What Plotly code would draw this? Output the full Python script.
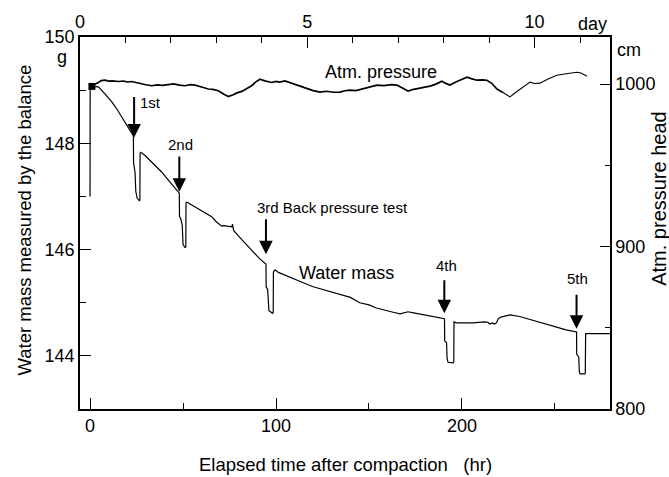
import plotly.graph_objects as go

# ---------------- data ----------------
# Water mass measured by the balance (g) vs elapsed time (hr)
water_hr = [0.0, 0.05, 1.0, 4.5, 8, 11.7, 14.5, 17, 20, 22.4, 23.3,
            23.4, 23.8, 24.2, 24.6, 25.3, 26.5, 26.8, 26.9, 27.3, 29.6, 34, 38.5, 43, 47.5, 48.0,
            48.1, 48.8, 49.6, 50.0, 51.0, 51.5, 51.6, 52.2, 54.7, 60, 65.4, 68, 70.8, 72, 76.2,
            76.6, 77.2, 80, 84, 88, 91.4, 94.6,
            94.7, 95.5, 95.9, 96.2, 98.2, 98.5, 98.6, 99.5, 101.3, 105, 109.3, 115, 120, 125,
            130.8, 136, 140, 145, 150, 154, 158, 163, 166.7, 169, 171, 174, 177.4, 183, 189.8, 190.6,
            190.7, 191.7, 192.0, 192.5, 195.3, 195.6, 195.7, 197, 206, 212, 214, 215, 216.5,
            217.5, 218.5, 219.5, 221, 225.8, 231, 236, 240, 246, 251, 256, 261.6,
            261.7, 262.8, 263.1, 263.6, 266.1, 266.3, 266.5, 268, 279.6]
water_g = [147.0, 149.05, 149.07, 149.06, 148.93, 148.78, 148.64, 148.5, 148.32, 148.18, 148.14,
           147.64, 147.56, 147.45, 147.1, 146.97, 146.92, 146.93, 147.81, 147.83, 147.77, 147.62, 147.46, 147.27, 147.09, 147.06,
           146.62, 146.58, 146.45, 146.1, 146.04, 146.05, 146.88, 146.89, 146.84, 146.73, 146.62, 146.52, 146.44, 146.45, 146.43,
           146.48, 146.36, 146.25, 146.1, 145.95, 145.82, 145.73,
           145.30, 145.25, 145.1, 144.85, 144.8, 144.82, 145.58, 145.62, 145.57, 145.52, 145.46, 145.37, 145.3, 145.25,
           145.2, 145.14, 145.1, 145.0, 144.96, 144.9, 144.86, 144.82, 144.79, 144.81, 144.83, 144.81, 144.79, 144.75, 144.71, 144.7,
           144.28, 144.25, 143.95, 143.88, 143.87, 143.89, 144.64, 144.62, 144.62, 144.64, 144.63, 144.60, 144.62,
           144.60, 144.62, 144.70, 144.73, 144.77, 144.74, 144.69, 144.64, 144.59, 144.53, 144.49, 144.45,
           144.03, 143.98, 143.7, 143.66, 143.66, 143.68, 144.42, 144.42, 144.42]

# Atmospheric pressure head (cm) vs elapsed time (hr)
press_hr = [1.2, 2.5, 4.5, 6.0, 8.1, 10, 12, 15.2, 18, 20, 22.4, 25, 27.8, 30, 33.2, 36, 39, 42.1,
            45, 48, 51.1, 54, 56.5, 60, 63.6, 66, 69.0, 72, 74.4, 77, 79, 81.6, 84, 86.9, 89, 91.4,
            94, 97.7, 100, 102, 104.8, 108, 111, 113, 116, 120, 123.7, 127, 131, 134.4, 137, 139.8,
            143, 146.8, 150, 154.3, 158, 162, 165, 168, 171, 174, 177.4, 180, 182.8, 186, 189.2,
            191, 193.5, 197, 200, 202.7, 205, 208, 211, 213.4, 216, 218.8, 222,
            225.8, 229, 233, 236.6, 239, 242, 246, 251, 256, 261.8, 264, 267.2]
press_cm = [998.0, 1000.0, 1001.0, 1002.2, 1002.4, 1001.8, 1002.0, 1001.6, 1001.9, 1001.3, 1001.6,
            1000.8, 1000.0, 999.6, 999.0, 999.5, 999.2, 999.6, 1000.1, 999.4, 999.0, 999.7, 999.4,
            998.2, 997.0, 996.8, 995.9, 993.8, 992.3, 993.5, 994.6, 995.5, 997.2, 999.0, 1001.2,
            1003.0, 1002.0, 1001.0, 1001.7, 1001.2, 1002.0, 1000.8, 999.7, 998.8, 997.6, 996.0,
            995.1, 995.6, 995.0, 995.1, 995.9, 996.3, 996.0, 997.0, 998.2, 999.4, 999.1, 999.7,
            999.4, 997.8, 995.7, 996.8, 997.6, 998.0, 998.8, 1000.0, 1001.8, 1000.6, 999.4, 1001.5,
            1003.2, 1004.3, 1003.4, 1002.4, 1002.6, 1002.4, 1000.5, 997.0, 994.8,
            992.1, 995.0, 998.5, 1001.2, 1000.4, 1000.6, 1003.0, 1005.5, 1006.4, 1007.3, 1006.8, 1004.9]
press_thick_until = 222  # the early record is drawn as a heavier (noisy) trace

# start-of-record marker
start_hr = [1.0]
start_g = [149.07]

# back pressure tests: arrow position (hr), arrow tip / tail (g), label and label position
test_hr = [23.7, 48.0, 94.6, 190.5, 261.6]
test_tip = [148.11, 147.09, 145.91, 144.80, 144.51]
test_tail = [148.90, 147.78, 146.60, 145.45, 145.18]
test_labels = ["1st", "2nd", "3rd Back pressure test", "4th", "5th"]
test_label_hr = [25.8, 48.4, 88.7, 191.8, 262.0]
test_label_g = [148.76, 147.98, 146.80, 145.70, 145.46]
test_label_anchor = ["left", "center", "left", "center", "center"]

# axes
x_range = [-5.4, 279.6]
x_ticks = [0, 100, 200]
x_minor = [50, 150, 250]
day_range = [0, 11.66]
day_ticks = [0, 5, 10]
day_minor = [1, 2, 3, 4, 6, 7, 8, 9, 11]
g_range = [143, 150]
g_ticks = [144, 146, 148, 150]
g_minor = [145, 147, 149]
cm_range = [800, 1029]
cm_ticks = [800, 900, 1000]
cm_minor = [850, 950]

# ---------------- figure ----------------
FONT = "Liberation Sans, Arial, Helvetica, sans-serif"
W, H = 669, 477
L, R, T, B = 80, 59, 32, 68
PW, PH = W - L - R, H - T - B


def px(xp):
    return (xp - L) / PW


def py(yp):
    return (H - B - yp) / PH


fig = go.Figure()

fig.add_trace(go.Scatter(x=water_hr, y=water_g, mode="lines",
                         line=dict(color="black", width=1.2), xaxis="x", yaxis="y",
                         showlegend=False, hoverinfo="skip"))

thick_hr = [h for h in press_hr if h <= press_thick_until]
thick_cm = press_cm[:len(thick_hr)]
thin_hr = press_hr[len(thick_hr) - 1:]
thin_cm = press_cm[len(thick_hr) - 1:]
fig.add_trace(go.Scatter(x=thick_hr, y=thick_cm, mode="lines",
                         line=dict(color="black", width=1.7), xaxis="x", yaxis="y2",
                         showlegend=False, hoverinfo="skip"))
fig.add_trace(go.Scatter(x=thin_hr, y=thin_cm, mode="lines",
                         line=dict(color="black", width=1.1), xaxis="x", yaxis="y2",
                         showlegend=False, hoverinfo="skip"))
fig.add_trace(go.Scatter(x=start_hr, y=start_g, mode="markers",
                         marker=dict(symbol="square", size=7, color="black"),
                         xaxis="x", yaxis="y", showlegend=False, hoverinfo="skip"))
# empty trace to register the day axis
fig.add_trace(go.Scatter(x=[None], y=[None], xaxis="x2", yaxis="y",
                         showlegend=False, hoverinfo="skip"))

annotations = []
for h, tip, tail in zip(test_hr, test_tip, test_tail):
    annotations.append(dict(x=h, y=tip, ax=h, ay=tail, xref="x", yref="y",
                            axref="x", ayref="y", text="", showarrow=True,
                            arrowhead=2, arrowsize=1.35, arrowwidth=2, arrowcolor="black"))
for lab, h, g, anc in zip(test_labels, test_label_hr, test_label_g, test_label_anchor):
    annotations.append(dict(x=h, y=g, xref="x", yref="y", text=lab, showarrow=False,
                            xanchor=anc, yanchor="middle",
                            font=dict(family=FONT, size=15, color="black")))

annotations.append(dict(x=111.3, y=145.56, xref="x", yref="y", text="Water mass",
                        showarrow=False, xanchor="left", yanchor="middle",
                        font=dict(family=FONT, size=18, color="black")))
annotations.append(dict(x=125.3, y=1007.3, xref="x", yref="y2", text="Atm. pressure",
                        showarrow=False, xanchor="left", yanchor="middle",
                        font=dict(family=FONT, size=18, color="black")))

# unit labels
annotations.append(dict(x=px(62), y=py(52), xref="paper", yref="paper", text="g",
                        showarrow=False, xanchor="center", yanchor="middle",
                        font=dict(family=FONT, size=18, color="black")))
annotations.append(dict(x=px(615), y=py(45), xref="paper", yref="paper", text="cm",
                        showarrow=False, xanchor="left", yanchor="middle",
                        font=dict(family=FONT, size=18, color="black")))
annotations.append(dict(x=px(592), y=py(19), xref="paper", yref="paper", text="day",
                        showarrow=False, xanchor="center", yanchor="middle",
                        font=dict(family=FONT, size=18, color="black")))

# axis titles
annotations.append(dict(x=px(25), y=py(218), xref="paper", yref="paper",
                        text="Water mass measured by the balance", textangle=-90,
                        showarrow=False, xanchor="center", yanchor="middle",
                        font=dict(family=FONT, size=18.5, color="black")))
annotations.append(dict(x=px(659), y=py(196), xref="paper", yref="paper",
                        text="Atm. pressure head", textangle=-90,
                        showarrow=False, xanchor="center", yanchor="middle",
                        font=dict(family=FONT, size=20, color="black")))
annotations.append(dict(x=px(345), y=py(465), xref="paper", yref="paper",
                        text="Elapsed time after compaction \u00a0 (hr)",
                        showarrow=False, xanchor="center", yanchor="middle",
                        font=dict(family=FONT, size=18.5, color="black")))

axis_common = dict(showgrid=False, zeroline=False, showline=True, linecolor="black",
                   linewidth=1.5, ticks="inside", tickcolor="black", tickwidth=1.3,
                   tickfont=dict(family=FONT, size=18, color="black"), tickmode="array")

fig.update_layout(
    width=W, height=H,
    margin=dict(l=L, r=R, t=T, b=B, pad=0),
    paper_bgcolor="white", plot_bgcolor="white",
    showlegend=False,
    xaxis=dict(range=x_range, tickvals=x_ticks, ticktext=[str(v) for v in x_ticks],
               ticklen=11, minor=dict(tickvals=x_minor, ticklen=6, ticks="inside",
                                      tickcolor="black", tickwidth=1.3),
               anchor="y", **axis_common),
    xaxis2=dict(range=day_range, tickvals=day_ticks, ticktext=[str(v) for v in day_ticks],
                overlaying="x", side="top", anchor="y", ticklen=11,
                minor=dict(tickvals=day_minor, ticklen=6, ticks="inside",
                           tickcolor="black", tickwidth=1.3),
                **axis_common),
    yaxis=dict(range=g_range, tickvals=g_ticks, ticktext=[str(v) for v in g_ticks],
               ticklen=11, minor=dict(tickvals=g_minor, ticklen=6, ticks="inside",
                                      tickcolor="black", tickwidth=1.3),
               anchor="x", **axis_common),
    yaxis2=dict(range=cm_range, tickvals=cm_ticks, ticktext=[str(v) for v in cm_ticks],
                overlaying="y", side="right", anchor="x", ticklen=10,
                minor=dict(tickvals=cm_minor, ticklen=5, ticks="inside",
                           tickcolor="black", tickwidth=1.3),
                **axis_common),
    annotations=annotations,
)

fig.write_html("out.html")
